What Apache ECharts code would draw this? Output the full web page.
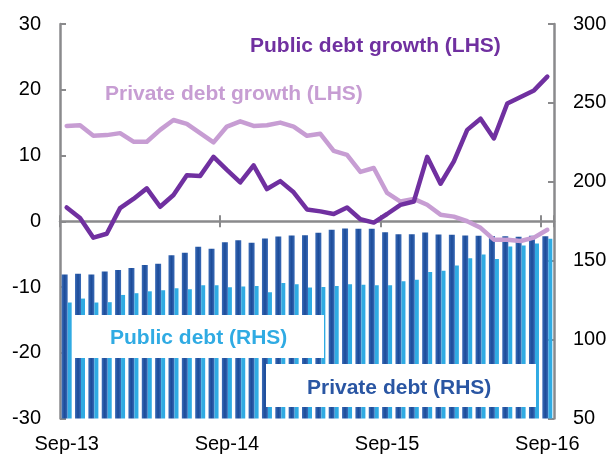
<!DOCTYPE html>
<html>
<head>
<meta charset="utf-8">
<script src="https://cdn.jsdelivr.net/npm/echarts@6/dist/echarts.min.js"></script>
<style>
  html, body { margin: 0; padding: 0; background: #fff; }
  #chart { width: 614px; height: 456px; }
</style>
</head>
<body>
<div id="chart"></div>
<script>
// Monthly observations, Sep-13 to Sep-16
var months = [
  'Sep-13','Oct-13','Nov-13','Dec-13','Jan-14','Feb-14','Mar-14','Apr-14','May-14','Jun-14','Jul-14','Aug-14',
  'Sep-14','Oct-14','Nov-14','Dec-14','Jan-15','Feb-15','Mar-15','Apr-15','May-15','Jun-15','Jul-15','Aug-15',
  'Sep-15','Oct-15','Nov-15','Dec-15','Jan-16','Feb-16','Mar-16','Apr-16','May-16','Jun-16','Jul-16','Aug-16',
  'Sep-16'
];

// Growth rates, per cent (left axis)
var publicGrowth = [
  2.1, 0.5, -2.5, -1.9, 2.0, 3.4, 5.0, 2.2, 4.0, 7.0, 6.9, 9.8,
  7.8, 5.9, 8.5, 4.9, 6.1, 4.4, 1.8, 1.5, 1.1, 2.1, 0.3, -0.2,
  1.1, 2.5, 3.0, 9.8, 5.7, 9.1, 13.9, 15.6, 12.6, 17.9, 18.9, 19.9,
  22.0
];
var privateGrowth = [
  14.5, 14.6, 13.0, 13.1, 13.4, 12.1, 12.1, 13.9, 15.4, 14.8, 13.4, 12.0,
  14.4, 15.2, 14.5, 14.6, 15.0, 14.4, 13.0, 13.3, 10.7, 10.1, 7.5, 8.1,
  4.3, 3.0, 3.4, 2.5, 1.0, 0.7, 0.0, -1.0, -2.8, -2.8, -3.0, -2.5,
  -1.3
];

// Debt levels (right axis)
var privateDebt = [
  141.3, 141.8, 141.2, 143.2, 144.1, 145.3, 147.2, 148.1, 153.5, 155.0, 158.8, 157.6,
  161.7, 163.0, 161.4, 164.1, 165.3, 166.0, 166.2, 167.7, 169.6, 170.4, 170.2, 170.2,
  168.0, 166.8, 166.8, 167.9, 166.6, 166.4, 166.0, 165.8, 165.6, 165.5, 165.1, 165.8,
  165.5
];
var publicDebt = [
  123.5, 126.0, 123.5, 123.7, 128.3, 129.4, 130.6, 131.2, 132.5, 131.9, 134.4, 134.4,
  133.1, 133.6, 134.0, 130.0, 135.9, 135.0, 133.0, 133.3, 134.0, 135.0, 134.8, 134.4,
  134.4, 136.9, 138.0, 142.8, 143.7, 147.0, 151.6, 154.0, 151.0, 159.0, 159.7, 160.9,
  163.9
];

// Axis tick values
var leftTicks = [-30, -20, -10, 0, 10, 20, 30];
var rightTicks = [50, 100, 150, 200, 250, 300];

var FONT = '"Liberation Sans", Arial, sans-serif';
var AXIS_GREY = '#8a8a8c';
var DARK_PURPLE = '#7030a0';
var LIGHT_PURPLE = '#c79dd3';
var LIGHT_BLUE = '#30abe3';

var GRID = { left: 60, right: 60, top: 24, bottom: 37.5 };
var plotHeight = 456 - GRID.top - GRID.bottom;
// distance from the bottom of the plot up to the zero line of the left axis
var zeroRise = plotHeight * (0 - leftTicks[0]) / (leftTicks[leftTicks.length - 1] - leftTicks[0]);

var chart = echarts.init(document.getElementById('chart'), null, { renderer: 'canvas' });

function yearTick(index) { return index % 12 === 0; }

var option = {
  animation: false,
  backgroundColor: '#fff',
  grid: { left: GRID.left, right: GRID.right, top: GRID.top, bottom: GRID.bottom, containLabel: false },
  xAxis: [
    {
      // zero line with downward year ticks
      type: 'category', data: months, position: 'bottom',
      axisLine: { onZero: true, lineStyle: { color: AXIS_GREY, width: 2.5 } },
      axisTick: { show: true, inside: false, length: 6, interval: yearTick, lineStyle: { color: AXIS_GREY, width: 2 } },
      axisLabel: { show: false }, splitLine: { show: false }
    },
    {
      // upward half of the year ticks on the zero line
      type: 'category', data: months, position: 'bottom', offset: -zeroRise,
      axisLine: { show: false, onZero: false },
      axisTick: { show: true, inside: true, length: 6, interval: yearTick, lineStyle: { color: AXIS_GREY, width: 2 } },
      axisLabel: { show: false }, splitLine: { show: false }
    },
    {
      // date labels along the bottom edge
      type: 'category', data: months, position: 'bottom',
      axisLine: { show: false, onZero: false },
      axisTick: { show: false },
      axisLabel: { show: true, interval: 11, margin: 16, color: '#000', fontSize: 20, fontFamily: FONT },
      splitLine: { show: false }
    }
  ],
  yAxis: [
    {
      type: 'value', position: 'left',
      min: leftTicks[0], max: leftTicks[leftTicks.length - 1], interval: 10,
      axisLine: { show: true, onZero: false, lineStyle: { color: AXIS_GREY, width: 2.5 } },
      axisTick: { show: true, inside: true, length: 6, lineStyle: { color: AXIS_GREY, width: 2 } },
      axisLabel: { color: '#000', fontSize: 20, fontFamily: FONT, margin: 19 },
      splitLine: { show: false }
    },
    {
      type: 'value', position: 'right',
      min: rightTicks[0], max: rightTicks[rightTicks.length - 1], interval: 50,
      axisLine: { show: true, onZero: false, lineStyle: { color: AXIS_GREY, width: 2.5 } },
      axisTick: { show: true, inside: true, length: 6, lineStyle: { color: AXIS_GREY, width: 2 } },
      axisLabel: { color: '#000', fontSize: 20, fontFamily: FONT, margin: 19 },
      splitLine: { show: false }
    }
  ],
  series: [
    {
      name: 'Private debt (RHS)', type: 'bar', xAxisIndex: 0, yAxisIndex: 1,
      data: privateDebt, barWidth: 6, barGap: '0%',
      itemStyle: {
        color: new echarts.graphic.LinearGradient(0, 0, 1, 0, [
          { offset: 0, color: '#3b6cb8' },
          { offset: 0.5, color: '#1c4b98' },
          { offset: 1, color: '#3b6cb8' }
        ])
      },
      z: 2
    },
    {
      name: 'Public debt (RHS)', type: 'bar', xAxisIndex: 0, yAxisIndex: 1,
      data: publicDebt, barWidth: 4, barGap: '0%',
      itemStyle: { color: LIGHT_BLUE },
      z: 2
    },
    {
      name: 'Private debt growth (LHS)', type: 'line', xAxisIndex: 0, yAxisIndex: 0,
      data: privateGrowth, symbol: 'none', smooth: false,
      lineStyle: { color: LIGHT_PURPLE, width: 4.5, join: 'round', cap: 'round' },
      z: 4
    },
    {
      name: 'Public debt growth (LHS)', type: 'line', xAxisIndex: 0, yAxisIndex: 0,
      data: publicGrowth, symbol: 'none', smooth: false,
      lineStyle: { color: DARK_PURPLE, width: 4.5, join: 'round', cap: 'round' },
      z: 5
    }
  ],
  graphic: [
    {
      type: 'text', left: 250, top: 36, z: 10,
      style: { text: 'Public debt growth (LHS)', fill: DARK_PURPLE, font: 'bold 21px ' + FONT }
    },
    {
      type: 'text', left: 105, top: 84, z: 10,
      style: { text: 'Private debt growth (LHS)', fill: LIGHT_PURPLE, font: 'bold 21px ' + FONT }
    },
    {
      type: 'rect', shape: { x: 75, y: 315, width: 249, height: 43 }, z: 10,
      style: { fill: '#fff' }
    },
    {
      type: 'text', left: 110, top: 328, z: 11,
      style: { text: 'Public debt (RHS)', fill: LIGHT_BLUE, font: 'bold 21px ' + FONT }
    },
    {
      type: 'rect', shape: { x: 266, y: 364, width: 270, height: 43 }, z: 10,
      style: { fill: '#fff' }
    },
    {
      type: 'text', left: 307, top: 378, z: 11,
      style: { text: 'Private debt (RHS)', fill: '#2a56a3', font: 'bold 21px ' + FONT }
    }
  ]
};

chart.setOption(option);
</script>
</body>
</html>
